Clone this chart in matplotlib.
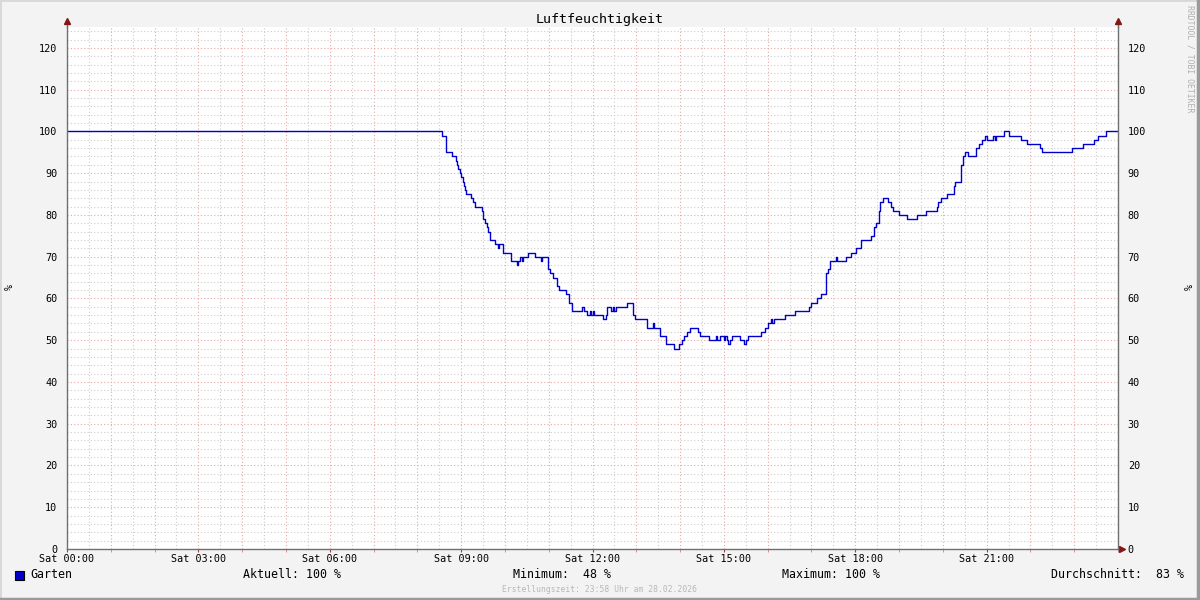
import matplotlib
matplotlib.use("Agg")
import matplotlib.pyplot as plt
from matplotlib.patches import Rectangle
from matplotlib.ticker import MultipleLocator
import numpy as np

# ---- data (minutes since Sat 00:00, humidity %) -- step changes ----
minutes = [0, 514, 519, 528, 533, 534, 536, 538, 540, 542, 544, 545, 547, 554, 556, 559,
           568, 570, 573, 575, 577, 579, 586, 590, 592, 598, 608, 616, 618, 621, 623, 625,
           632, 641, 649, 651, 659, 662, 666, 671, 674, 684, 688, 692, 705, 708, 712, 717,
           718, 720, 722, 734, 739, 740, 745, 748, 750, 752, 767, 776, 778, 795, 803, 804,
           812, 821, 832, 838, 842, 845, 849, 854, 864, 867, 880, 889, 890, 895, 900, 902,
           904, 906, 908, 911, 922, 928, 930, 933, 951, 957, 961, 965, 966, 969, 984, 998,
           1016, 1020, 1027, 1033, 1040, 1043, 1045, 1054, 1055, 1067, 1074, 1081, 1088, 1101,
           1106, 1108, 1112, 1114, 1118, 1125, 1129, 1132, 1140, 1151, 1165, 1177, 1192, 1194,
           1197, 1206, 1215, 1217, 1225, 1228, 1231, 1235, 1246, 1250, 1253, 1258, 1260, 1269,
           1271, 1273, 1284, 1290, 1307, 1316, 1333, 1336, 1377, 1392, 1407, 1413, 1424, 1440]
humidity = [100, 99, 95, 94, 93, 92, 91, 90, 89, 88, 87, 86, 85, 84, 83, 82,
            81, 79, 78, 77, 76, 74, 73, 72, 73, 71, 69, 68, 69, 70, 69, 70,
            71, 70, 69, 70, 67, 66, 65, 63, 62, 61, 59, 57, 58, 57, 56, 57,
            56, 57, 56, 55, 56, 58, 57, 58, 57, 58, 59, 56, 55, 53, 54, 53,
            51, 49, 48, 49, 50, 51, 52, 53, 52, 51, 50, 51, 50, 51, 50, 51,
            50, 49, 50, 51, 50, 49, 50, 51, 52, 53, 54, 55, 54, 55, 56, 57,
            58, 59, 60, 61, 66, 67, 69, 70, 69, 70, 71, 72, 74, 75,
            77, 78, 81, 83, 84, 83, 82, 81, 80, 79, 80, 81, 82, 83,
            84, 85, 87, 88, 92, 94, 95, 94, 96, 97, 98, 99, 98, 99,
            98, 99, 100, 99, 98, 97, 96, 95, 96, 97, 98, 99, 100, 100]

tick_labels = ["Sat 00:00", "Sat 03:00", "Sat 06:00", "Sat 09:00",
               "Sat 12:00", "Sat 15:00", "Sat 18:00", "Sat 21:00"]
title = "Luftfeuchtigkeit"
series_name = "Garten"
stats = [("Aktuell: 100 %", 243), ("Minimum:  48 %", 513),
         ("Maximum: 100 %", 782), ("Durchschnitt:  83 %", 1051)]
footer = "Erstellungszeit: 23:58 Uhr am 28.02.2026"
watermark = "RRDTOOL / TOBI OETIKER"

hours = np.array(minutes) / 60.0
vals = np.array(humidity, dtype=float)

MONO = "DejaVu Sans Mono"
W, H = 1200, 600
fig = plt.figure(figsize=(12, 6), dpi=100, facecolor="#f3f3f3")

# plot area in pixel coordinates
L, R, T, B = 67, 1118, 27, 549
ax = fig.add_axes([L / W, 1 - B / H, (R - L) / W, (B - T) / H])
ax.set_facecolor("white")

ax.plot(hours, vals, drawstyle="steps-post", color="#0000cc", lw=1.0, zorder=3)

ax.set_xlim(0, 24)
ax.set_ylim(0, 125)

# grid
for h in np.arange(0.5, 24, 0.5):
    if abs(h - round(h)) < 1e-6:
        ax.axvline(h, color="#e8a8a8", lw=0.8, ls=(0, (1, 2)), zorder=1)
    else:
        ax.axvline(h, color="#cccccc", lw=0.8, ls=(0, (1, 2)), zorder=1)
for v in np.arange(2, 125, 2):
    if v % 10 == 0:
        ax.axhline(v, color="#e8a8a8", lw=0.8, ls=(0, (1, 2)), zorder=1)
    else:
        ax.axhline(v, color="#cccccc", lw=0.8, ls=(0, (1, 2)), zorder=1)

ax.set_xticks(np.arange(0, 24, 3))
ax.set_xticklabels(tick_labels, fontfamily=MONO, fontsize=7.3)
ax.xaxis.set_minor_locator(MultipleLocator(1))
ax.set_yticks(np.arange(0, 121, 10))
ax.tick_params(axis="x", which="major", length=2, color="#a04040", pad=1.5)
ax.tick_params(axis="x", which="minor", length=2, color="#d08080")
ax.tick_params(axis="y", which="both", length=0, labelsize=7.3, pad=7,
               right=True, labelright=True)
for lab in ax.get_yticklabels():
    lab.set_fontfamily(MONO)

ax.spines["top"].set_visible(False)
for s in ["left", "right", "bottom"]:
    ax.spines[s].set_color("#707070")
    ax.spines[s].set_linewidth(1.0)
    ax.spines[s].set_zorder(4)

# axis arrows
ax.plot([0, 0], [1, 1.012], transform=ax.transAxes, color="#707070", lw=1, clip_on=False)
ax.plot([1, 1], [1, 1.012], transform=ax.transAxes, color="#707070", lw=1, clip_on=False)
ax.plot([0], [1.012], marker="^", ms=4, color="#801818", transform=ax.transAxes, clip_on=False)
ax.plot([1], [1.012], marker="^", ms=4, color="#801818", transform=ax.transAxes, clip_on=False)
ax.plot([1.004], [0], marker=">", ms=4, color="#801818", transform=ax.transAxes, clip_on=False)

# texts
fig.text(600 / W, 1 - 19 / H, title, ha="center", va="center", fontfamily=MONO, fontsize=9.6)
fig.text(10 / W, 1 - 287 / H, "%", ha="center", va="center", rotation=90,
         fontfamily=MONO, fontsize=7.3)
fig.text(1190 / W, 1 - 287 / H, "%", ha="center", va="center", rotation=90,
         fontfamily=MONO, fontsize=7.3)
fig.text(1190 / W, 1 - 5 / H, watermark, ha="center", va="top", rotation=270,
         fontfamily=MONO, fontsize=5.9, color="#b0b0b0")

# legend row
fig.patches.append(Rectangle((15 / W, 1 - 580 / H), 9 / W, 9 / H, transform=fig.transFigure,
                             facecolor="#0000cc", edgecolor="black", lw=0.8))
fig.text(30 / W, 1 - 575 / H, series_name, ha="left", va="center", fontfamily=MONO, fontsize=8.4)
for txt, x in stats:
    fig.text(x / W, 1 - 575 / H, txt, ha="left", va="center", fontfamily=MONO, fontsize=8.4)
fig.text(600 / W, 1 - 589 / H, footer, ha="center", va="center", fontfamily=MONO,
         fontsize=5.8, color="#b8b8b8")

# figure border (3D style)
fig.patches.append(Rectangle((0, 0), 1, 1, transform=fig.transFigure, fill=False,
                             edgecolor="#d8d8d8", lw=2))
fig.lines.append(plt.Line2D([0, 1], [0.002, 0.002], transform=fig.transFigure, color="#9a9a9a", lw=2.5))
fig.lines.append(plt.Line2D([0.998, 0.998], [0, 1], transform=fig.transFigure, color="#9a9a9a", lw=2.5))

fig.savefig("out.png", dpi=100, facecolor=fig.get_facecolor())
